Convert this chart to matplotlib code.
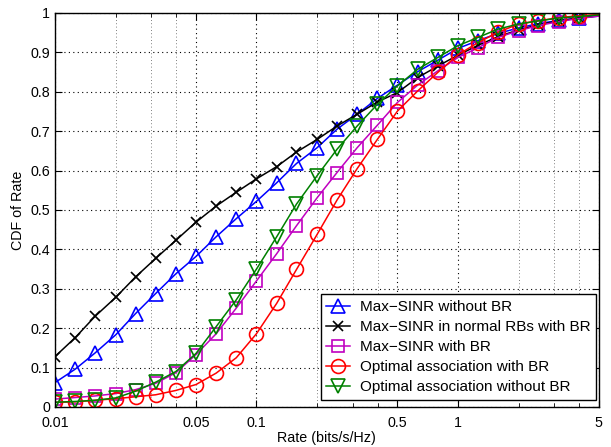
import matplotlib
matplotlib.use("Agg")
import matplotlib.pyplot as plt
from matplotlib.ticker import FixedLocator, NullFormatter

plt.rcParams['font.family'] = ['Liberation Sans', 'DejaVu Sans']

# rate samples (bits/s/Hz), log spaced
rate = [0.01, 0.0126, 0.0158, 0.02, 0.0251, 0.0316, 0.0398, 0.0501, 0.0631, 0.0794,
        0.1, 0.126, 0.158, 0.2, 0.251, 0.316, 0.398, 0.501, 0.631, 0.794,
        1.0, 1.26, 1.58, 2.0, 2.51, 3.16, 3.98, 5.0]

maxsinr_no_br = [0.062, 0.096, 0.137, 0.183, 0.237, 0.288, 0.338, 0.382, 0.432, 0.478,
                 0.522, 0.569, 0.618, 0.658, 0.705, 0.743, 0.783, 0.817, 0.851, 0.88,
                 0.91, 0.93, 0.948, 0.962, 0.973, 0.981, 0.987, 0.992]
maxsinr_normal_rb = [0.128, 0.176, 0.23, 0.278, 0.33, 0.377, 0.423, 0.469, 0.51, 0.545,
                     0.579, 0.61, 0.647, 0.679, 0.713, 0.743, 0.774, 0.798, 0.836, 0.865,
                     0.893, 0.918, 0.94, 0.957, 0.97, 0.98, 0.987, 0.993]
maxsinr_br = [0.02, 0.024, 0.028, 0.034, 0.044, 0.06, 0.087, 0.133, 0.186, 0.251,
              0.32, 0.389, 0.46, 0.531, 0.595, 0.658, 0.715, 0.773, 0.817, 0.853,
              0.887, 0.912, 0.938, 0.955, 0.968, 0.978, 0.986, 0.992]
optimal_br = [0.012, 0.013, 0.017, 0.021, 0.026, 0.031, 0.042, 0.057, 0.086, 0.125,
              0.186, 0.263, 0.349, 0.438, 0.525, 0.605, 0.679, 0.751, 0.802, 0.849,
              0.894, 0.925, 0.951, 0.972, 0.98, 0.988, 0.993, 0.996]
optimal_no_br = [0.012, 0.014, 0.017, 0.023, 0.04, 0.063, 0.09, 0.136, 0.204, 0.272,
                 0.35, 0.432, 0.515, 0.587, 0.654, 0.713, 0.768, 0.815, 0.857, 0.887,
                 0.917, 0.938, 0.959, 0.972, 0.98, 0.987, 0.991, 0.995]

labels = ['Max\u2212SINR without BR', 'Max\u2212SINR in normal RBs with BR',
          'Max\u2212SINR with BR', 'Optimal association with BR',
          'Optimal association without BR']
xticks = [0.01, 0.05, 0.1, 0.5, 1, 5]
xminor = [0.02, 0.03, 0.04, 0.2, 0.3, 0.4, 2, 3, 4]

fig = plt.figure(figsize=(6.11, 4.47), dpi=100)
ax = fig.add_axes([0.090, 0.0895, 0.890, 0.8815])

marks = list(range(len(rate) - 1))
series = [
    (maxsinr_no_br, 'blue', '^', 10),
    (maxsinr_normal_rb, 'black', 'x', 6.5),
    (maxsinr_br, '#c000c0', 's', 8),
    (optimal_br, 'red', 'o', 10),
    (optimal_no_br, 'green', 'v', 10),
]
for (vals, col, mk, ms), lab in zip(series, labels):
    ax.plot(rate, vals, color=col, marker=mk, markersize=ms, markevery=marks,
            markerfacecolor='none', markeredgecolor=col, markeredgewidth=1.2,
            linewidth=1.1, label=lab)

ax.set_xscale('log')
ax.set_xlim(0.01, 5)
ax.set_ylim(0, 1)
ax.xaxis.set_major_locator(FixedLocator(xticks))
ax.set_xticklabels([str(t) for t in xticks])
ax.xaxis.set_minor_locator(FixedLocator(xminor))
ax.xaxis.set_minor_formatter(NullFormatter())
ax.set_yticks([i / 10 for i in range(11)])
ax.set_yticklabels(['0'] + ['%.1f' % (i / 10) for i in range(1, 10)] + ['1'])

ax.grid(True, which='major', color='black', linestyle=(0, (1, 3)), linewidth=0.8)
ax.grid(True, which='minor', axis='x', color='#555555', linestyle=(0, (1, 3)), linewidth=0.6)
ax.tick_params(which='both', direction='in', top=True, right=True, labelsize=10.3)
ax.tick_params(which='major', length=5)
ax.tick_params(which='minor', length=3)
ax.tick_params(axis='x', pad=6.5)
for s in ax.spines.values():
    s.set_linewidth(1.0)

ax.set_xlabel('Rate (bits/s/Hz)', fontsize=10.3, labelpad=1)
ax.set_ylabel('CDF of Rate', fontsize=10.3, labelpad=4)

leg = ax.legend(loc='lower right', bbox_to_anchor=(0.9945, 0.018), fontsize=11,
                frameon=True, fancybox=False, edgecolor='black', framealpha=1,
                handlelength=1.6, borderpad=0.36, labelspacing=0.4,
                handletextpad=0.6, borderaxespad=0)
leg.get_frame().set_linewidth(1.0)

fig.savefig('out.png', dpi=100)
